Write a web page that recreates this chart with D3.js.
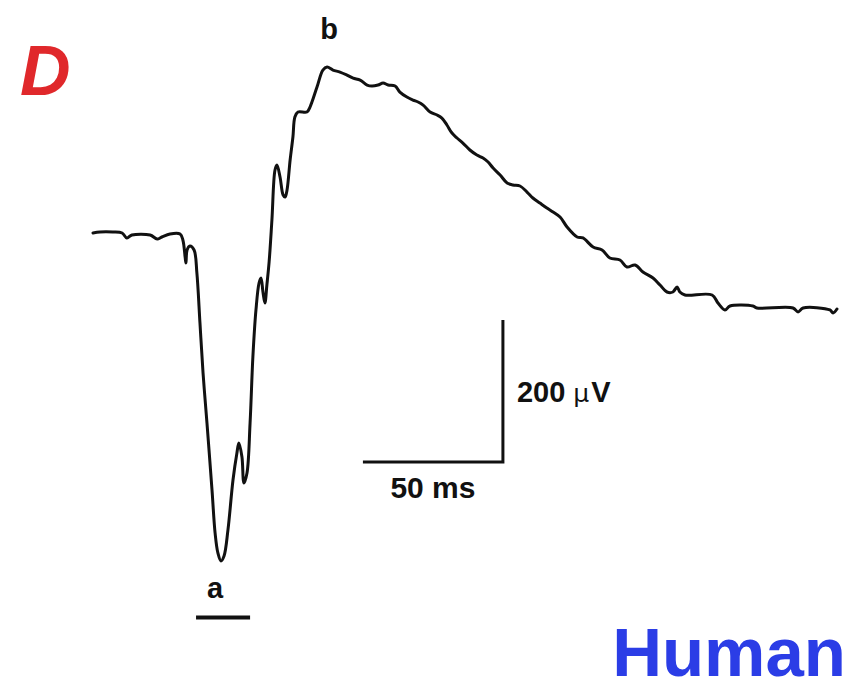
<!DOCTYPE html>
<html>
<head>
<meta charset="utf-8">
<script src="https://cdn.jsdelivr.net/npm/d3@7"></script>
<style>
  html, body { margin: 0; padding: 0; background: #fff; }
  svg { display: block; }
</style>
</head>
<body>
<svg id="chart" width="854" height="691"></svg>
<script>
// Time (ms) and voltage (µV)
const timeMs = [0,2.5,7.1,10.4,12.1,13.9,20.4,22.9,24.6,27.5,31.1,32.1,32.9,33.2,33.6,34.6,36.1,37.1,38.2,39.3,40.7,42.5,43.6,44.6,45.7,46.8,48.2,50.0,51.4,52.1,53.2,53.9,55.0,56.1,57.1,58.2,59.3,60.0,60.7,61.4,62.1,62.9,63.9,65.0,65.7,66.8,67.9,68.6,69.3,70.4,71.4,72.1,73.2,76.4,77.5,80.0,82.1,83.6,85.7,88.2,90.7,92.9,95.4,97.9,99.6,101.8,103.6,105.4,107.9,109.6,112.1,114.3,116.1,117.9,120.4,122.9,124.6,126.4,128.2,130.0,132.1,134.6,137.1,139.3,141.1,142.9,145.4,147.9,150.0,152.5,155.0,157.1,159.6,162.1,164.3,166.8,169.3,172.9,175.0,178.6,181.8,184.6,188.2,190.7,193.6,196.4,200.0,202.5,205.0,207.1,208.6,209.6,211.4,221.1,223.2,225.7,227.5,235.7,237.1,250.0,251.8,253.6,263.2,264.3,265.7];
const voltUv = [1.4,2.8,2.8,1.4,-5.6,-1.4,-1.4,-7.0,-4.2,0,0,-8.4,-32.4,-40.8,-22.5,-16.9,-22.5,-54.9,-125.3,-195.7,-266.1,-360.4,-421.0,-449.2,-460.4,-453.4,-416.8,-346.4,-308.4,-294.3,-314.0,-350.6,-336.5,-266.1,-173.2,-107.0,-69.0,-62.0,-81.7,-97.2,-71.8,-39.4,19.7,90.1,97.2,80.3,54.9,52.1,62.0,104.2,136.6,164.7,171.8,171.8,178.8,207.0,230.9,235.1,230.9,228.1,223.9,219.6,216.8,209.8,208.4,209.8,212.6,209.8,208.4,199.9,192.9,188.7,185.9,181.6,171.8,167.6,163.3,153.5,142.2,135.2,128.1,118.3,111.2,107.0,101.4,92.9,83.1,71.8,69.0,67.6,59.1,50.7,43.6,36.6,31.0,23.9,9.9,-4.2,-5.6,-18.3,-22.5,-33.8,-36.6,-46.5,-43.6,-53.5,-62.0,-71.8,-81.7,-81.7,-74.6,-81.7,-85.9,-85.9,-97.2,-107.0,-101.4,-101.4,-104.2,-104.2,-109.8,-104.2,-107.0,-111.2,-105.6];

// Scale bar values and its anchor corner
const scaleBarTime = 50;      // ms
const scaleBarVolt = 200;     // µV
const scaleBarCorner = [146.4, -321];  // [ms, µV]
const scaleBarLabels = ["200 ", "\u00b5", "V"];
const timeLabel = "50 ms";

// Marker bar under "a" (ms span) and level
const aBarTimes = [36.8, 56.1];
const aBarVolt = -540;

const panelLabel = "D";
const speciesLabel = "Human";

const svg = d3.select("#chart");

const x = d3.scaleLinear().domain([0, 270]).range([93, 93 + 270 * 2.8]);
const y = d3.scaleLinear().domain([300, -560]).range([234 - 300 * 0.71, 234 + 560 * 0.71]);

const data = timeMs.map((t, i) => ({ t, v: voltUv[i] }));

const line = d3.line()
  .x(d => x(d.t))
  .y(d => y(d.v))
  .curve(d3.curveCatmullRom.alpha(0.5));

svg.append("path")
  .datum(data)
  .attr("fill", "none")
  .attr("stroke", "#111")
  .attr("stroke-width", 3)
  .attr("stroke-linejoin", "round")
  .attr("stroke-linecap", "round")
  .attr("d", line);

// Scale bar
const [cT, cV] = scaleBarCorner;
svg.append("path")
  .attr("fill", "none")
  .attr("stroke", "#111")
  .attr("stroke-width", 3)
  .attr("d", `M${x(cT - scaleBarTime)},${y(cV)} L${x(cT)},${y(cV)} L${x(cT)},${y(cV + scaleBarVolt)}`);

const vt = svg.append("text")
  .attr("x", x(cT) + 14)
  .attr("y", y(cV + scaleBarVolt / 2) + 11)
  .attr("font-family", "Liberation Sans, Arial, sans-serif")
  .attr("font-size", 29)
  .attr("font-weight", "bold")
  .attr("fill", "#111");
vt.append("tspan").text(scaleBarLabels[0]);
vt.append("tspan").attr("font-weight", "normal").attr("font-family", "DejaVu Sans, sans-serif").attr("font-size", 25).text(scaleBarLabels[1]);
vt.append("tspan").attr("dx", 2).text(scaleBarLabels[2]);

svg.append("text")
  .attr("x", x(cT - scaleBarTime / 2))
  .attr("y", y(cV) + 36)
  .attr("text-anchor", "middle")
  .attr("font-family", "Liberation Sans, Arial, sans-serif")
  .attr("font-size", 30)
  .attr("font-weight", "bold")
  .attr("fill", "#111")
  .text(timeLabel);

// Peak labels
const trough = data.reduce((a, b) => (b.v < a.v ? b : a));
const peak = data.reduce((a, b) => (b.v > a.v ? b : a));

svg.append("text")
  .attr("x", x(peak.t) + 2)
  .attr("y", y(peak.v) - 28)
  .attr("text-anchor", "middle")
  .attr("font-family", "Liberation Sans, Arial, sans-serif")
  .attr("font-size", 29)
  .attr("font-weight", "bold")
  .attr("fill", "#111")
  .text("b");

svg.append("text")
  .attr("x", x(trough.t) - 6)
  .attr("y", y(trough.v) + 37)
  .attr("text-anchor", "middle")
  .attr("font-family", "Liberation Sans, Arial, sans-serif")
  .attr("font-size", 29)
  .attr("font-weight", "bold")
  .attr("fill", "#111")
  .text("a");

svg.append("line")
  .attr("x1", x(aBarTimes[0]))
  .attr("x2", x(aBarTimes[1]))
  .attr("y1", y(aBarVolt))
  .attr("y2", y(aBarVolt))
  .attr("stroke", "#111")
  .attr("stroke-width", 4);

// Panel letter and species
svg.append("text")
  .attr("x", 20)
  .attr("y", 95)
  .attr("font-family", "Liberation Sans, Arial, sans-serif")
  .attr("font-size", 70)
  .attr("font-weight", "bold")
  .attr("font-style", "italic")
  .attr("fill", "#e0282b")
  .text(panelLabel);

svg.append("text")
  .attr("x", 846)
  .attr("y", 676)
  .attr("text-anchor", "end")
  .attr("font-family", "Liberation Sans, Arial, sans-serif")
  .attr("font-size", 69)
  .attr("font-weight", "bold")
  .attr("fill", "#2b3de6")
  .text(speciesLabel);
</script>
</body>
</html>
